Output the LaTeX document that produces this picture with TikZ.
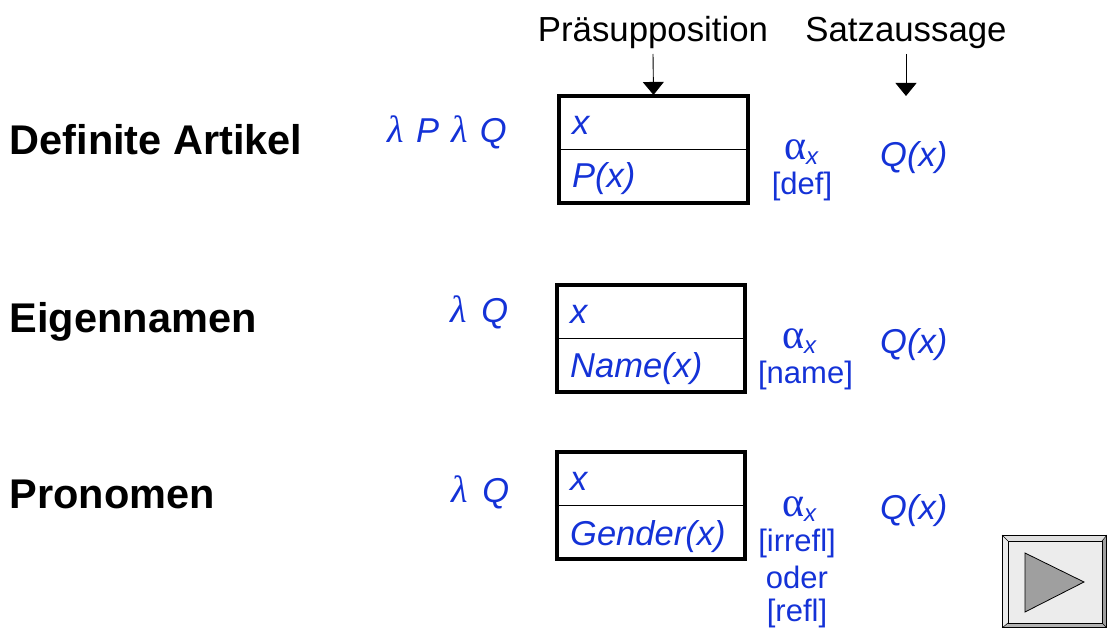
\documentclass[tikz,border=0pt]{standalone}
\usepackage{fontspec}
\setmainfont{Liberation Sans}
\newfontfamily\grk{Liberation Serif}
\usetikzlibrary{arrows.meta}
\definecolor{drsblue}{RGB}{20,50,215}
\newcommand{\fs}[1]{\fontsize{#1}{#1}\selectfont}
\newcommand{\lam}{{\grk\itshape\fs{38}λ}}
\newcommand{\alp}{{\grk\fs{42}α}{\fs{24}\itshape\raisebox{-5pt}{x}}}
\tikzset{
 txt/.style={inner sep=0pt,anchor=base west},
 head/.style={txt,font=\fs{41.5}\bfseries},
 top/.style={inner sep=0pt,anchor=base,font=\fs{34.8}},
 blue/.style={txt,text=drsblue,font=\fs{34.5}\itshape},
 smallb/.style={inner sep=0pt,anchor=base,text=drsblue,font=\fs{31}},
 drsbox/.style={draw,line width=3.6pt,minimum width=188.5pt,minimum height=107.5pt,inner sep=0pt,outer sep=1.8pt},
 ptr/.style={line width=.9pt,-{Triangle[length=13pt,width=21pt]},shorten >=-1pt},
}
\begin{document}
\begin{tikzpicture}[x=1pt,y=1pt]
\useasboundingbox (0,0) rectangle (1107,-628);
\node[top] (pr) at (653,-41.5) {Präsupposition};
\node[top] (sa) at (906,-41.5) {Satzaussage};
\node[head] (h1) at (9.5,-155) {Definite Artikel};
\node[head] (h2) at (9.5,-332) {Eigennamen};
\node[head] (h3) at (9.5,-508) {Pronomen};
\node[blue] (l1) at (387,-143) {\lam\hspace{3pt}\ P\hspace{3pt}\ \lam\hspace{2pt}\ Q};
\node[blue] (l2) at (450,-322) {\lam\hspace{5pt}\ Q};
\node[blue] (l3) at (451,-502) {\lam\hspace{5pt}\ Q};
\node[drsbox] (b1) at (653.5,-149.5) {};
\node[drsbox] (b2) at (651,-338.5) {};
\node[drsbox] (b3) at (651,-505.5) {};
\draw[line width=.8pt] (b1.west) -- (b1.east);
\draw[line width=.8pt] (b2.west) -- (b2.east);
\draw[line width=.8pt] (b3.west) -- (b3.east);
\node[blue] (x1) at (572,-135) {x};
\node[blue] (p1) at (572,-188) {P(x)};
\node[blue] (x2) at (570,-323.5) {x};
\node[blue] (p2) at (570,-377.5) {Name(x)};
\node[blue] (x3) at (570,-490.5) {x};
\node[blue] (p3) at (570,-545) {Gender(x)};
\node[blue] (q1) at (880,-167) {Q(x)};
\node[blue] (q2) at (880,-353) {Q(x)};
\node[blue] (q3) at (880,-519) {Q(x)};
\node[smallb] (a1) at (801,-160) {\alp};
\node[smallb] (d1) at (802,-194.5) {[def]};
\node[smallb] (a2) at (799,-348) {\alp};
\node[smallb] (d2) at (805.5,-383.5) {[name]};
\node[smallb] (a3) at (799,-516) {\alp};
\node[smallb] (d3) at (797,-551.5) {[irrefl]};
\node[smallb] (o3) at (797,-588) {oder};
\node[smallb] (r3) at (797,-621.5) {[refl]};
\coordinate (s1) at (653,-54);
\coordinate (s2) at (906,-54);
\coordinate (e2) at (906,-95);
\draw[ptr] (s1) -- (b1.north);
\draw[ptr] (s2) -- (e2);
% action button
\fill[gray!15] (1002,-535) rectangle (1107,-628);
\fill[white!92!black] (1002,-535) -- (1008,-541) -- (1008,-623) -- (1002,-628) -- cycle;
\fill[gray!75] (1107,-535) -- (1102,-541) -- (1102,-623) -- (1107,-628) -- cycle;
\fill[gray!60] (1002,-628) -- (1008,-623) -- (1102,-623) -- (1107,-628) -- cycle;
\fill[gray!25] (1002,-535) -- (1008,-541) -- (1102,-541) -- (1107,-535) -- cycle;
\draw[line width=.9pt] (1002.5,-535.5) rectangle (1106.5,-627.5);
\draw[line width=.9pt] (1008,-541) rectangle (1102,-623);
\draw[line width=.5pt] (1002,-535) -- (1008,-541) (1107,-535) -- (1102,-541) (1002,-628) -- (1008,-623) (1107,-628) -- (1102,-623);
\draw[line width=.8pt,fill=gray!75] (1025,-553) -- (1025,-612) -- (1084,-582) -- cycle;
\end{tikzpicture}
\end{document}
